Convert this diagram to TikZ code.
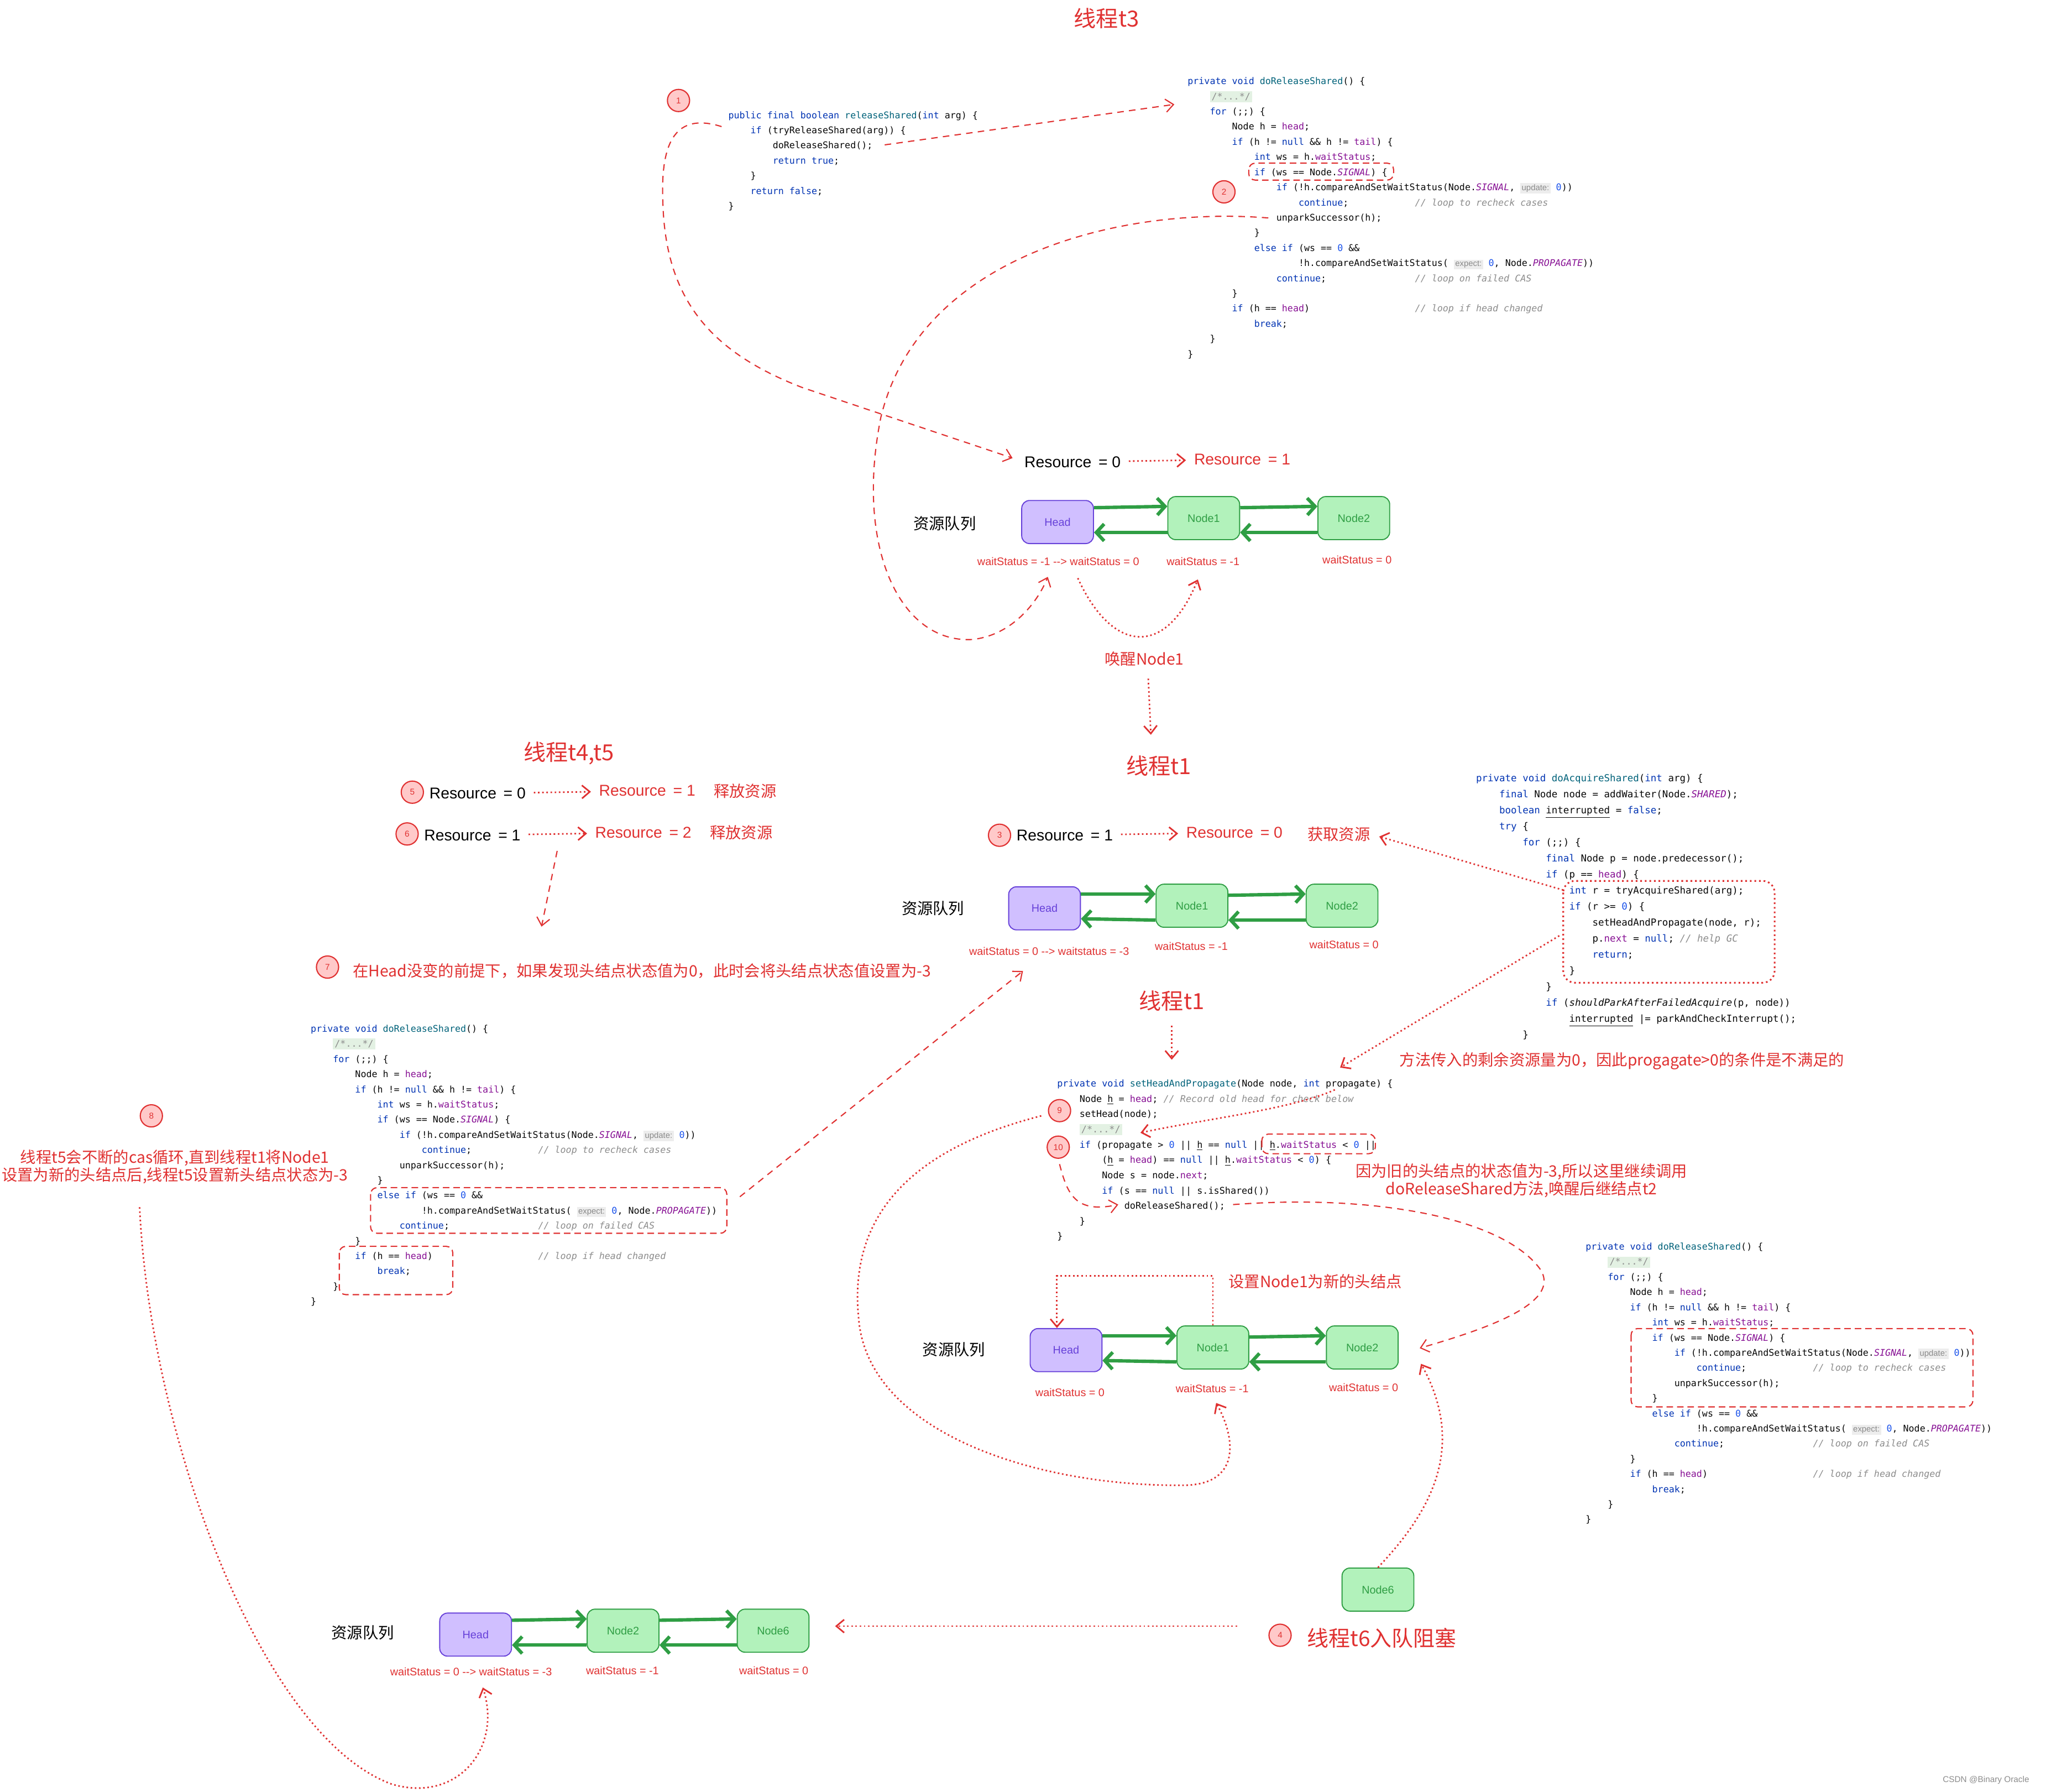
\documentclass[tikz,border=0pt]{standalone}
\usepackage{fontspec}
\setmainfont{Liberation Sans}
\setmonofont{DejaVu Sans Mono}
\newfontfamily\cjk{Noto Sans CJK SC}
\usetikzlibrary{arrows.meta, positioning, calc}

\definecolor{MarkRed}{HTML}{E03131}
\definecolor{BadgeFill}{HTML}{FFC9C9}
\definecolor{HeadFill}{HTML}{D0BFFF}
\definecolor{HeadLine}{HTML}{6741D9}
\definecolor{NodeFill}{HTML}{B2F2BB}
\definecolor{NodeLine}{HTML}{2F9E44}
\definecolor{CodeTx}{HTML}{080808}
\definecolor{CodeKw}{HTML}{0033B3}
\definecolor{CodeFn}{HTML}{00627A}
\definecolor{CodeFld}{HTML}{871094}
\definecolor{CodeNum}{HTML}{1750EB}
\definecolor{CodeCmt}{HTML}{8C8C8C}
\definecolor{FoldBg}{HTML}{E3F1E3}
\definecolor{HintBg}{HTML}{EDEDED}
\definecolor{HintTx}{HTML}{8A8A8A}

% code colouring
\newcommand\kw[1]{\textcolor{CodeKw}{#1}}
\newcommand\fnd[1]{\textcolor{CodeFn}{#1}}
\newcommand\fld[1]{\textcolor{CodeFld}{#1}}
\newcommand\cst[1]{\textcolor{CodeFld}{\itshape #1}}
\newcommand\nm[1]{\textcolor{CodeNum}{#1}}
\newcommand\cmt[1]{\textcolor{CodeCmt}{\itshape #1}}
\newcommand\gap[1]{\hspace*{\dimexpr#1\fontcharwd\font`0\relax}}
\newcommand\hnt[1]{{\setlength\fboxsep{1pt}\colorbox{HintBg}{\rmfamily\fontsize{6.3}{7}\selectfont\textcolor{HintTx}{#1}}}}
\newcommand\fold{{\setlength\fboxsep{1.3pt}\colorbox{FoldBg}{\textcolor{CodeCmt}{/*...*/}}}}

% body of doReleaseShared, used three times
\newcommand\relBody{\strut\kw{private void} \fnd{doReleaseShared}() \{\\
\gap{4}\fold\\
\gap{4}\kw{for} (;;) \{\\
\gap{8}Node h = \fld{head};\\
\gap{8}\kw{if} (h != \kw{null} \&\& h != \fld{tail}) \{\\
\gap{12}\kw{int} ws = h.\fld{waitStatus};\\
\gap{12}\kw{if} (ws == Node.\cst{SIGNAL}) \{\\
\gap{16}\kw{if} (!h.compareAndSetWaitStatus(Node.\cst{SIGNAL}, \hnt{update:} \nm{0}))\\
\gap{20}\kw{continue};\gap{12}\cmt{// loop to recheck cases}\\
\gap{16}unparkSuccessor(h);\\
\gap{12}\}\\
\gap{12}\kw{else if} (ws == \nm{0} \&\&\\
\gap{20}!h.compareAndSetWaitStatus( \hnt{expect:} \nm{0}, Node.\cst{PROPAGATE}))\\
\gap{16}\kw{continue};\gap{16}\cmt{// loop on failed CAS}\\
\gap{8}\}\\
\gap{8}\kw{if} (h == \fld{head})\gap{19}\cmt{// loop if head changed}\\
\gap{12}\kw{break};\\
\gap{4}\}\\
\}}

\begin{document}
\begin{tikzpicture}[
    x=1pt, y=-1pt,
    % 文字样式
    title/.style={font=\cjk\fontsize{17}{19}\selectfont, text=MarkRed},
    note/.style={font=\cjk\fontsize{12}{13.5}\selectfont, text=MarkRed, inner sep=1pt},
    res/.style={font=\fontsize{12}{14}\selectfont, inner sep=1pt},
    resred/.style={res, text=MarkRed},
    qlabel/.style={font=\cjk\fontsize{12}{14}\selectfont},
    wslabel/.style={font=\fontsize{8.4}{10}\selectfont, text=MarkRed, inner sep=1pt},
    badge/.style={circle, draw=MarkRed, fill=BadgeFill, line width=0.9pt,
        minimum size=17pt, inner sep=0pt, font=\fontsize{6.5}{7}\selectfont, text=MarkRed},
    % 队列结点
    qbox/.style={rounded corners=6pt, minimum width=55pt, minimum height=33pt,
        inner sep=0pt, line width=0.8pt, font=\fontsize{8.4}{10}\selectfont},
    headbox/.style={qbox, fill=HeadFill, draw=HeadLine, text=HeadLine},
    nodebox/.style={qbox, fill=NodeFill, draw=NodeLine, text=NodeLine},
    link/.style={draw=NodeLine, line width=2.6pt, -{Straight Barb[length=6pt, width=13pt]}},
    % 代码块
    code/.style={anchor=north west, inner sep=0pt, align=left, text=CodeTx,
        font=\ttfamily\fontsize{7.06}{11.61}\selectfont\frenchspacing},
    % 红色连线
    dashlink/.style={draw=MarkRed, line width=0.9pt, dash pattern=on 5pt off 4pt,
        -{Straight Barb[length=6pt, width=10pt]}},
    dotlink/.style={draw=MarkRed, line width=1.2pt, dash pattern=on 1.2pt off 2pt,
        -{Straight Barb[length=6pt, width=10pt]}},
    dashframe/.style={draw=MarkRed, line width=0.9pt, dash pattern=on 5pt off 3pt, rounded corners=5pt},
    dotframe/.style={draw=MarkRed, line width=1.3pt, dash pattern=on 1.3pt off 2.2pt, rounded corners=9pt}
]
    \fill[white] (0,0) rectangle (1568,1373);
    \useasboundingbox (0,0) rectangle (1568,1373);

    % ====== 线程t3 ======
    \node[title] (t3title) at (848,14) {线程t3};
    \node[badge] (b1) at (520,77) {1};
    \node[code] (relShared) at (558,82.4) {\strut\kw{public final boolean} \fnd{releaseShared}(\kw{int} arg) \{\\
        \gap{4}\kw{if} (tryReleaseShared(arg)) \{\\
        \gap{8}doReleaseShared();\\
        \gap{8}\kw{return true};\\
        \gap{4}\}\\
        \gap{4}\kw{return false};\\
        \}};
    \node[code] (relLoopA) at (910,56.4) {\relBody};
    \draw[dashframe] (957,125) rectangle (1068,138);
    \node[badge] (b2) at (938,147) {2};

    \node[res] (t3r0) at (822,354) {Resource\hspace{0.45em}= 0};
    \node[resred] (t3r1) at (952,352) {Resource\hspace{0.45em}= 1};
    \draw[dotlink, shorten <=5pt, shorten >=5pt] (t3r0) -- (t3r1);

    \node[qlabel] (t3q) at (724,401) {资源队列};
    \node[headbox] (t3h) at (810.5,400) {Head};
    \node[nodebox] (t3n1) at (922.5,397) {Node1};
    \node[nodebox] (t3n2) at (1037.5,397) {Node2};
    \draw[link] ([yshift=11pt]t3h.east) -- ([yshift=9pt]t3n1.west);
    \draw[link] ([yshift=-11pt]t3n1.west) -- ([yshift=-8pt]t3h.east);
    \draw[link] ([yshift=8pt]t3n1.east) -- ([yshift=9pt]t3n2.west);
    \draw[link] ([yshift=-11pt]t3n2.west) -- ([yshift=-11pt]t3n1.east);
    \node[wslabel] (t3w0) at (811,430) {waitStatus = -1 -{}-> waitStatus = 0};
    \node[wslabel] (t3w1) at (922,430) {waitStatus = -1};
    \node[wslabel] (t3w2) at (1040,429) {waitStatus = 0};
    \node[note] (wake) at (877,505) {唤醒Node1};

    \coordinate (a0) at (553,97);
    \coordinate (a1) at (776,351);
    \draw[dashlink] (a0) .. controls (518,86) and (506,108) .. (508,155)
        .. controls (510,230) and (545,270) .. (615,297) -- (a1);
    \coordinate (c0) at (678,111);
    \coordinate (c1) at (900,80);
    \draw[dashlink] (c0) -- (c1);
    \coordinate (u0) at (972,167);
    \coordinate (u1) at (803,442);
    \draw[dashlink] (u0) .. controls (860,158) and (705,195) .. (675,320)
        .. controls (655,420) and (690,493) .. (745,490)
        .. controls (775,487) and (795,462) .. (u1);
    \coordinate (d0) at (826,443);
    \coordinate (d1) at (918,444);
    \draw[dotlink] (d0) .. controls (852,500) and (893,505) .. (d1);
    \coordinate (e0) at (880,520);
    \coordinate (e1) at (882,563);
    \draw[dotlink] (e0) -- (e1);

    % ====== 线程t1 ======
    \node[title] (t1title) at (888,587) {线程t1};
    \node[badge] (b3) at (766,640) {3};
    \node[res] (t1r1) at (816,640) {Resource\hspace{0.45em}= 1};
    \node[resred] (t1r0) at (946,638) {Resource\hspace{0.45em}= 0};
    \node[note] (t1get) at (1026,639) {获取资源};
    \draw[dotlink, shorten <=5pt, shorten >=5pt] (t1r1) -- (t1r0);

    \node[code, font=\ttfamily\fontsize{7.41}{12.3}\selectfont\frenchspacing] (acqShared) at (1131,590) {\strut\kw{private void} \fnd{doAcquireShared}(\kw{int} arg) \{\\
        \gap{4}\kw{final} Node node = addWaiter(Node.\cst{SHARED});\\
        \gap{4}\kw{boolean} \underline{interrupted} = \kw{false};\\
        \gap{4}\kw{try} \{\\
        \gap{8}\kw{for} (;;) \{\\
        \gap{12}\kw{final} Node p = node.predecessor();\\
        \gap{12}\kw{if} (p == \fld{head}) \{\\
        \gap{16}\kw{int} r = tryAcquireShared(arg);\\
        \gap{16}\kw{if} (r >= \nm{0}) \{\\
        \gap{20}setHeadAndPropagate(node, r);\\
        \gap{20}p.\fld{next} = \kw{null}; \cmt{// help GC}\\
        \gap{20}\kw{return};\\
        \gap{16}\}\\
        \gap{12}\}\\
        \gap{12}\kw{if} (\textit{shouldParkAfterFailedAcquire}(p, node))\\
        \gap{16}\underline{interrupted} |= parkAndCheckInterrupt();\\
        \gap{8}\}};
    \draw[dotframe] (1198,675) rectangle (1360,753);
    \coordinate (f0) at (1198,682);
    \coordinate (f1) at (1057,641);
    \draw[dotlink] (f0) -- (f1);
    \coordinate (g0) at (1195,717);
    \coordinate (g1) at (1027,818);
    \draw[dotlink] (g0) -- (g1);

    \node[qlabel] (t1q) at (715,696) {资源队列};
    \node[headbox] (t1h) at (800.5,696) {Head};
    \node[nodebox] (t1n1) at (913.5,694) {Node1};
    \node[nodebox] (t1n2) at (1028.5,694) {Node2};
    \draw[link] ([yshift=11pt]t1h.east) -- ([yshift=9pt]t1n1.west);
    \draw[link] ([yshift=-11pt]t1n1.west) -- ([yshift=-8pt]t1h.east);
    \draw[link] ([yshift=8pt]t1n1.east) -- ([yshift=9pt]t1n2.west);
    \draw[link] ([yshift=-11pt]t1n2.west) -- ([yshift=-11pt]t1n1.east);
    \node[wslabel] (t1w0) at (804,729) {waitStatus = 0 -{}-> waitstatus = -3};
    \node[wslabel] (t1w1) at (913,725) {waitStatus = -1};
    \node[wslabel] (t1w2) at (1030,724) {waitStatus = 0};

    \node[title] (t1again) at (898,767) {线程t1};
    \coordinate (h0) at (898,786);
    \coordinate (h1) at (898,812);
    \draw[dotlink] (h0) -- (h1);
    \node[note] (noProp) at (1243,813) {方法传入的剩余资源量为0，因此progagate>0的条件是不满足的};

    \node[code, font=\ttfamily\fontsize{7.12}{11.7}\selectfont\frenchspacing] (setHeadProp) at (810,824.4) {\strut\kw{private void} \fnd{setHeadAndPropagate}(Node node, \kw{int} propagate) \{\\
        \gap{4}Node \underline{h} = \fld{head}; \cmt{// Record old head for check below}\\
        \gap{4}setHead(node);\\
        \gap{4}\fold\\
        \gap{4}\kw{if} (propagate > \nm{0} || \underline{h} == \kw{null} || \underline{h}.\fld{waitStatus} < \nm{0} ||\\
        \gap{8}(\underline{h} = \fld{head}) == \kw{null} || \underline{h}.\fld{waitStatus} < \nm{0}) \{\\
        \gap{8}Node s = node.\fld{next};\\
        \gap{8}\kw{if} (s == \kw{null} || s.isShared())\\
        \gap{12}doReleaseShared();\\
        \gap{4}\}\\
        \}};
    \node[badge] (b9) at (812,851) {9};
    \node[badge] (b10) at (811,879) {10};
    \draw[dashframe] (967,869) rectangle (1054,884);
    \coordinate (i0) at (1023,835);
    \coordinate (i1) at (874,868);
    \draw[dotlink] (i0) .. controls (990,850) and (920,858) .. (i1);
    \node[note, align=center] (again) at (1166,904.5) {因为旧的头结点的状态值为-3,所以这里继续调用\\doReleaseShared方法,唤醒后继结点t2};
    \coordinate (j0) at (812,892);
    \coordinate (j1) at (857,923);
    \draw[dashlink] (j0) .. controls (818,915) and (824,930) .. (j1);
    \coordinate (k0) at (945,923);
    \coordinate (k1) at (1088,1033);
    \draw[dashlink] (k0) .. controls (1050,915) and (1150,932) .. (1180,972)
        .. controls (1198,998) and (1140,1018) .. (k1);

    % ====== 设置新的头结点 ======
    \node[note] (newHead) at (1008,982) {设置Node1为新的头结点};
    \node[qlabel] (nhq) at (731,1034) {资源队列};
    \node[headbox] (nhh) at (817,1034.5) {Head};
    \node[nodebox] (nhn1) at (929.5,1032.5) {Node1};
    \node[nodebox] (nhn2) at (1044,1032.5) {Node2};
    \draw[link] ([yshift=11pt]nhh.east) -- ([yshift=9pt]nhn1.west);
    \draw[link] ([yshift=-11pt]nhn1.west) -- ([yshift=-8pt]nhh.east);
    \draw[link] ([yshift=8pt]nhn1.east) -- ([yshift=9pt]nhn2.west);
    \draw[link] ([yshift=-11pt]nhn2.west) -- ([yshift=-11pt]nhn1.east);
    \node[wslabel] (nhw0) at (820,1067) {waitStatus = 0};
    \node[wslabel] (nhw1) at (929,1064) {waitStatus = -1};
    \node[wslabel] (nhw2) at (1045,1063) {waitStatus = 0};
    \draw[dotlink] (nhn1.north) -- ++(0,-38) -| ([xshift=-7pt]nhh.north);
    \coordinate (m0) at (798,855);
    \coordinate (m1) at (932,1075);
    \draw[dotlink] (m0) .. controls (700,880) and (650,930) .. (658,1010)
        .. controls (665,1100) and (800,1140) .. (910,1138)
        .. controls (952,1136) and (946,1100) .. (m1);

    \node[code] (relLoopC) at (1215,949.4) {\relBody};
    \draw[dashframe] (1250,1018) rectangle (1512,1078);

    \node[nodebox] (t6n) at (1056,1218) {Node6};
    \coordinate (n1) at (1089,1045);
    \draw[dotlink] (t6n.north) .. controls (1095,1160) and (1125,1110) .. (n1);
    \node[badge] (b4) at (981,1253) {4};
    \node[title, font=\cjk\fontsize{16.5}{18}\selectfont] (t6title) at (1059,1255) {线程t6入队阻塞};
    \coordinate (o0) at (948,1246);
    \coordinate (o1) at (640,1246);
    \draw[dotlink] (o0) -- (o1);

    % ====== 线程t4,t5 ======
    \node[title] (t45title) at (436,577) {线程t4,t5};
    \node[badge] (b5) at (316,607) {5};
    \node[res] (t5r0) at (366,608) {Resource\hspace{0.45em}= 0};
    \node[resred] (t5r1) at (496,606) {Resource\hspace{0.45em}= 1};
    \node[note] (rel5) at (571,606) {释放资源};
    \draw[dotlink, shorten <=5pt, shorten >=5pt] (t5r0) -- (t5r1);
    \node[badge] (b6) at (312,639) {6};
    \node[res] (t6r1) at (362,640) {Resource\hspace{0.45em}= 1};
    \node[resred] (t6r2) at (493,638) {Resource\hspace{0.45em}= 2};
    \node[note] (rel6) at (568,638) {释放资源};
    \draw[dotlink, shorten <=5pt, shorten >=5pt] (t6r1) -- (t6r2);
    \coordinate (p0) at (427,652);
    \coordinate (p1) at (415,710);
    \draw[dashlink] (p0) -- (p1);

    \node[badge] (b7) at (251,741) {7};
    \node[note] (keepHead) at (492,744) {在Head没变的前提下，如果发现头结点状态值为0，此时会将头结点状态值设置为-3};
    \node[badge] (b8) at (116,855) {8};
    \node[note, align=center] (casLoop) at (134,894) {线程t5会不断的cas循环,直到线程t1将Node1\\设置为新的头结点后,线程t5设置新头结点状态为-3};

    \node[code] (relLoopB) at (238,782.4) {\relBody};
    \draw[dashframe] (284,910) rectangle (557,945);
    \draw[dashframe] (260,955) rectangle (347,992);
    \coordinate (q0) at (567,917);
    \coordinate (q1) at (784,744);
    \draw[dashlink] (q0) -- (q1);
    \coordinate (r0) at (107,925);
    \coordinate (r1) at (370,1293);
    \draw[dotlink] (r0) .. controls (115,1100) and (200,1330) .. (300,1367)
        .. controls (350,1382) and (385,1340) .. (r1);

    % ====== 最终队列 ======
    \node[qlabel] (endq) at (278,1251) {资源队列};
    \node[headbox] (endh) at (364.5,1252.5) {Head};
    \node[nodebox] (endn2) at (477.5,1249.5) {Node2};
    \node[nodebox] (endn6) at (592.5,1249.5) {Node6};
    \draw[link] ([yshift=11pt]endh.east) -- ([yshift=9pt]endn2.west);
    \draw[link] ([yshift=-11pt]endn2.west) -- ([yshift=-8pt]endh.east);
    \draw[link] ([yshift=8pt]endn2.east) -- ([yshift=9pt]endn6.west);
    \draw[link] ([yshift=-11pt]endn6.west) -- ([yshift=-11pt]endn2.east);
    \node[wslabel] (endw0) at (361,1281) {waitStatus = 0 -{}-> waitStatus = -3};
    \node[wslabel] (endw1) at (477,1280) {waitStatus = -1};
    \node[wslabel] (endw2) at (593,1280) {waitStatus = 0};

    \node[font=\fontsize{6.5}{7}\selectfont, text=black!45] (mark) at (1522,1364) {CSDN @Binary Oracle};
\end{tikzpicture}
\end{document}
